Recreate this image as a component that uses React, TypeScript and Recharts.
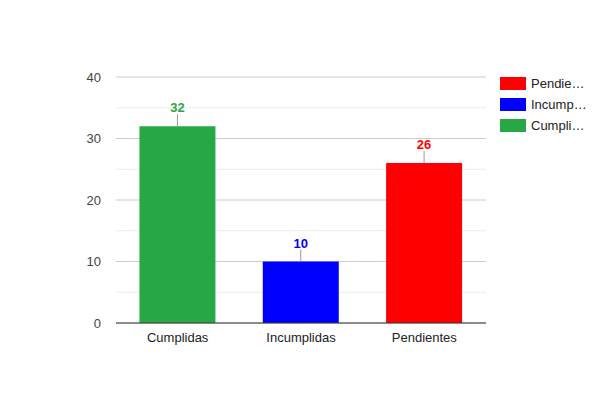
import { BarChart, Bar, XAxis, YAxis, CartesianGrid, Legend, LabelList, Cell } from 'recharts'

const categories = ['Cumplidas', 'Incumplidas', 'Pendientes']
const counts = [32, 10, 26]
const colors = ['#28a745', '#0000ff', '#ff0000']
const yTicks = [0, 10, 20, 30, 40]
const minorTicks = [5, 15, 25, 35]
// legend is listed in reverse order and truncated like the original
const legendLabels = ['Pendie…', 'Incump…', 'Cumpli…']
const legendColors = ['#ff0000', '#0000ff', '#28a745']

const FONT = 'Arial, "Liberation Sans", sans-serif'

const chartData = categories.map((name, i) => ({ name, value: counts[i], color: colors[i] }))

function StemLabel(props: any) {
  const { x, y, width, value, index } = props
  const cx = x + width / 2
  return (
    <g>
      <line x1={cx} y1={y} x2={cx} y2={y - 12} stroke="#999" strokeWidth={1} />
      <text x={cx} y={y - 14} textAnchor="middle" fontFamily={FONT} fontSize={13} fontWeight="bold" fill={colors[index]}>
        {value}
      </text>
    </g>
  )
}

function LegendBox() {
  return (
    <div style={{ fontFamily: FONT, fontSize: 13, color: '#222' }}>
      {legendLabels.map((label, i) => (
        <div key={label} style={{ display: 'flex', alignItems: 'center', height: 13, marginBottom: 8 }}>
          <div style={{ width: 26, height: 13, background: legendColors[i], marginRight: 5 }} />
          <span>{label}</span>
        </div>
      ))}
    </div>
  )
}

export default function App() {
  return (
    <div style={{ position: 'absolute', left: 0, top: 0, width: 600, height: 400, background: '#fff' }}>
      <BarChart width={600} height={400} data={chartData} margin={{ top: 77, right: 114, bottom: 47, left: 16 }} barCategoryGap="19%">
        <CartesianGrid vertical={false} horizontalValues={minorTicks} stroke="#ebebeb" />
        <CartesianGrid vertical={false} stroke="#cccccc" />
        <XAxis
          dataKey="name"
          height={30}
          axisLine={{ stroke: '#333' }}
          tickLine={false}
          tickSize={0}
          tickMargin={10}
          tick={{ fill: '#222', fontSize: 13, fontFamily: FONT }}
        />
        <YAxis
          width={100}
          domain={[0, 40]}
          ticks={yTicks}
          axisLine={false}
          tickLine={false}
          tickSize={0}
          tickMargin={15}
          tick={{ fill: '#444', fontSize: 13, fontFamily: FONT }}
        />
        <Legend
          layout="horizontal"
          verticalAlign="middle"
          align="center"
          wrapperStyle={{ left: 500, top: 77, width: 100 }}
          content={() => <LegendBox />}
        />
        <Bar dataKey="value" isAnimationActive={false}>
          {chartData.map((d) => (
            <Cell key={d.name} fill={d.color} />
          ))}
          <LabelList dataKey="value" content={<StemLabel />} />
        </Bar>
      </BarChart>
    </div>
  )
}
